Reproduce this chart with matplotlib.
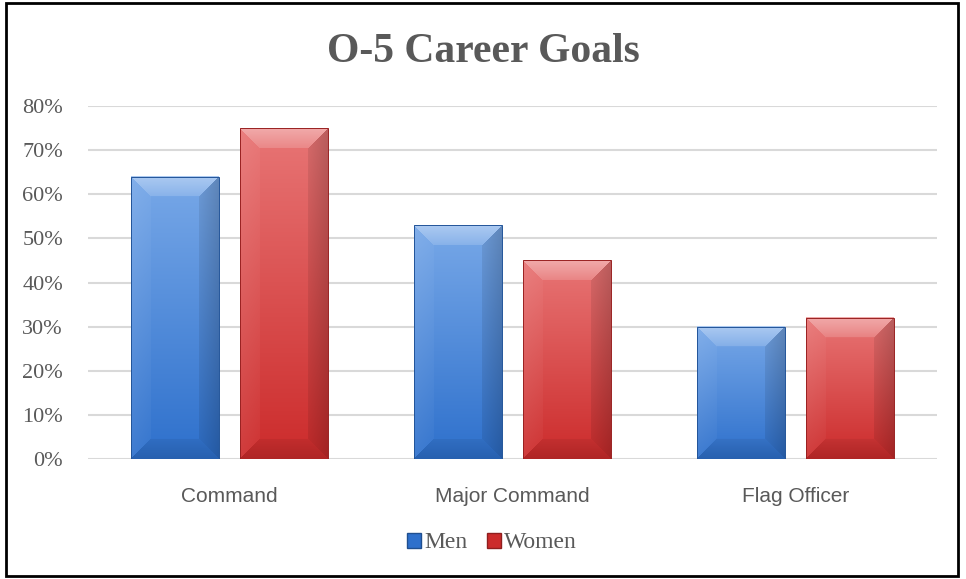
import numpy as np
import matplotlib
matplotlib.use("Agg")
import matplotlib.pyplot as plt
from matplotlib.patches import Rectangle, Patch
from matplotlib.ticker import FuncFormatter

categories = ["Command", "Major Command", "Flag Officer"]
men = [0.64, 0.53, 0.30]
women = [0.75, 0.45, 0.32]
series_names = ["Men", "Women"]

# (light top, dark bottom) for each series
blue = (np.array([0.47, 0.66, 0.91]), np.array([0.18, 0.44, 0.80]))
red = (np.array([0.91, 0.46, 0.46]), np.array([0.80, 0.17, 0.17]))

fig = plt.figure(figsize=(9.66, 5.79), dpi=100)
ax = fig.add_axes([88 / 966, 1 - 459 / 579, (937 - 88) / 966, (459 - 106) / 579])

gray = "#595959"
bar_w = 0.31
offset = 0.193
ymax = 0.8
px_x = 283.0          # pixels per x unit
px_y = 353.0 / ymax   # pixels per y unit


def bevel_image(height, cols, bevel=20):
    top, bot = cols
    W = int(round(bar_w * px_x))
    H = max(int(round(height * px_y)), 2)
    yy, xx = np.mgrid[0:H, 0:W]
    t = (yy / max(H - 1, 1))[..., None]
    img = top * (1 - t) + bot * t
    dl, dr, dt, db = xx, W - 1 - xx, yy, H - 1 - yy
    dmin = np.minimum(np.minimum(dl, dr), np.minimum(dt, db))
    inb = dmin < bevel
    # fade the bevel shading towards the inner face
    f = np.clip(1 - dmin / bevel, 0, 1)[..., None] * 0.6 + 0.4
    top_z = inb & (dt == dmin)
    bot_z = inb & (db == dmin) & ~top_z
    left_z = inb & (dl == dmin) & ~top_z & ~bot_z
    right_z = inb & (dr == dmin) & ~top_z & ~bot_z & ~left_z
    white = np.ones(3)
    img = np.where(top_z[..., None], img + (white - img) * 0.38 * f, img)
    img = np.where(left_z[..., None], img + (white - img) * 0.08 * f, img)
    img = np.where(right_z[..., None], img * (1 - 0.2 * f), img)
    img = np.where(bot_z[..., None], img * (1 - 0.14 * f), img)
    return np.clip(img, 0, 1)


def draw_bar(x, h, cols):
    x0, x1 = x - bar_w / 2, x + bar_w / 2
    ax.imshow(bevel_image(h, cols), extent=(x0, x1, 0, h), aspect="auto",
              interpolation="bilinear", zorder=3, origin="upper")
    ax.add_patch(Rectangle((x0, 0), bar_w, h, fill=False,
                           edgecolor=cols[1] * 0.75, linewidth=0.7, zorder=4))


xs = np.arange(len(categories))
for i in xs:
    draw_bar(i - offset, men[i], blue)
    draw_bar(i + offset, women[i], red)

ax.set_xlim(-0.5, len(categories) - 0.5)
ax.set_ylim(0, ymax)
ax.set_yticks(np.arange(0, 0.81, 0.1))
ax.yaxis.set_major_formatter(FuncFormatter(lambda v, p: f"{v * 100:.0f}%"))
ax.set_xticks(xs)
ax.set_xticklabels(categories, fontfamily="Liberation Sans", fontsize=15, color=gray)
for lab in ax.get_yticklabels():
    lab.set_fontfamily("Liberation Serif")
    lab.set_fontsize(16)
    lab.set_color(gray)
ax.tick_params(axis="y", length=0, pad=18)
ax.tick_params(axis="x", length=0, pad=20)
ax.grid(axis="y", color="#d9d9d9", linewidth=1.5, zorder=0)
ax.set_axisbelow(True)
for s in ax.spines.values():
    s.set_visible(False)

fig.text(0.5, 1 - 52 / 579, "O-5 Career Goals", ha="center", va="center",
         fontfamily="Liberation Serif", fontweight="bold", fontsize=30, color=gray)

handles = [Patch(facecolor=blue[1], edgecolor=blue[1] * 0.7),
           Patch(facecolor=red[1], edgecolor=red[1] * 0.7)]
fig.legend(handles, series_names, loc="center", bbox_to_anchor=(492 / 966, 1 - 543 / 579),
           ncol=2, frameon=False, handlelength=0.6, handleheight=0.6,
           handletextpad=0.15, columnspacing=0.8,
           prop={"family": "Liberation Serif", "size": 17}, labelcolor=gray)

fig.patches.append(Rectangle((6 / 966, 1 - 576 / 579), 952 / 966, 573 / 579,
                             transform=fig.transFigure, fill=False,
                             edgecolor="black", linewidth=2))

fig.savefig("out.png", dpi=100)
